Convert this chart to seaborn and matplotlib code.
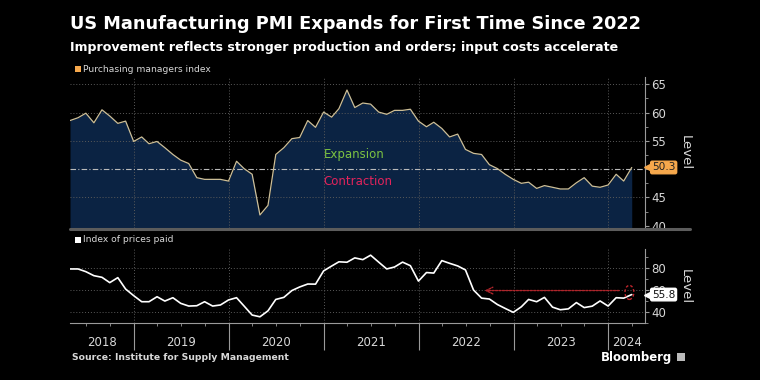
import numpy as np
import pandas as pd
import matplotlib
matplotlib.use("Agg")
import matplotlib.pyplot as plt
import matplotlib.dates as mdates
import matplotlib.transforms as mtransforms
from matplotlib.patches import Ellipse, Rectangle
from matplotlib.lines import Line2D
import seaborn as sns

# monthly, Apr 2018 .. Mar 2024 (month-end)
months = pd.date_range("2018-04-01", periods=72, freq="MS") + pd.offsets.MonthEnd(0)

pmi = [58.6, 59.1, 59.9, 58.2, 60.5, 59.4, 58.1, 58.5, 54.9, 55.7, 54.5, 54.9,
       53.8, 52.6, 51.6, 51.0, 48.5, 48.2, 48.2, 48.2, 47.9, 51.4, 50.1, 49.1,
       41.9, 43.6, 52.6, 53.8, 55.4, 55.6, 58.6, 57.4, 60.1, 59.2, 60.7, 64.0,
       60.9, 61.7, 61.5, 60.1, 59.7, 60.4, 60.4, 60.6, 58.5, 57.5, 58.3, 57.2,
       55.7, 56.2, 53.5, 52.8, 52.6, 50.8, 50.1, 49.1, 48.2, 47.5, 47.7, 46.6,
       47.1, 46.8, 46.5, 46.5, 47.6, 48.5, 47.0, 46.8, 47.2, 49.1, 47.9, 50.3]

prices_paid = [79.4, 79.4, 76.9, 73.2, 71.7, 66.8, 71.4, 60.9, 54.8, 49.2, 49.2, 53.8,
               49.8, 52.9, 47.7, 45.2, 45.5, 49.2, 45.2, 46.2, 50.8, 52.9, 45.2, 36.9,
               35.3, 40.8, 51.3, 53.2, 59.5, 62.8, 65.5, 65.4, 77.6, 82.1, 86.0, 85.6,
               89.6, 88.0, 92.1, 85.7, 79.4, 81.2, 85.7, 82.4, 68.2, 76.1, 75.6, 87.1,
               84.6, 82.2, 78.5, 60.0, 52.5, 51.7, 46.6, 43.0, 39.4, 44.5, 51.3, 49.2,
               53.2, 44.2, 41.8, 42.6, 48.4, 43.8, 45.1, 49.9, 45.2, 52.9, 52.5, 55.8]

years = [2018, 2019, 2020, 2021, 2022, 2023, 2024]
pmi_ticks = [40, 45, 55, 60, 65]
price_ticks = [40, 60, 80]

TITLE = "US Manufacturing PMI Expands for First Time Since 2022"
SUBTITLE = "Improvement reflects stronger production and orders; input costs accelerate"

BG = "black"
FILL = "#0b2343"
PMI_LINE = "#cdbf98"
ORANGE = "#f6a84c"
GRID = "#5a5a5a"
TXT = "#d8d8d8"

sns.set_theme(style="dark", rc={
    "figure.facecolor": BG,
    "axes.facecolor": BG,
    "savefig.facecolor": BG,
})
plt.rcParams["font.family"] = ["DejaVu Sans"]

df = pd.DataFrame({"date": months, "pmi": pmi, "prices": prices_paid})

fig = plt.figure(figsize=(7.6, 3.8), dpi=100)
W, H = 760, 380


def px_axes(left, top, right, bottom):
    return fig.add_axes([left / W, 1 - bottom / H, (right - left) / W, (bottom - top) / H])


def last_value_tag(ax, value, face, text_color):
    # little flag on the right axis: pointer + box with the latest value
    tr = mtransforms.blended_transform_factory(ax.transAxes, ax.transData)
    ax.plot([1.006], [value], marker="<", ms=5.5, color=face, mec=face,
            transform=tr, clip_on=False, zorder=5)
    ax.text(1.012, value, f"{value:.1f}", transform=tr, color=text_color, fontsize=7.6,
            ha="left", va="center", zorder=6, clip_on=False,
            bbox=dict(boxstyle="round,pad=0.12,rounding_size=0.15", fc=face, ec=face))


ax1 = px_axes(70, 77, 645, 228)
ax2 = px_axes(70, 249, 645, 323.3)

xmin = pd.Timestamp("2018-04-30")
xmax = pd.Timestamp("2024-05-21")
year_starts = [pd.Timestamp(f"{y}-01-01") for y in years[1:]]

for ax in (ax1, ax2):
    ax.set_xlim(xmin, xmax)
    for s in ("left", "top", "bottom"):
        ax.spines[s].set_visible(False)
    ax.spines["right"].set_color("#9a9a9a")
    ax.spines["right"].set_linewidth(0.8)
    ax.yaxis.tick_right()
    ax.tick_params(axis="y", which="both", direction="out", colors="#9a9a9a",
                   labelcolor=TXT, labelsize=8.5, pad=1.5, right=True, left=False)
    ax.tick_params(axis="y", which="major", length=3, width=0.8)
    ax.tick_params(axis="y", which="minor", length=2, width=0.6)
    ax.grid(False)
    for d in year_starts:
        ax.axvline(d, color=GRID, lw=0.7, ls=(0, (1, 2)), zorder=1.5)

# ---- top panel: PMI
ax1.set_ylim(39.6, 66.3)
ax1.fill_between(df["date"], df["pmi"], 39.6, color=FILL, lw=0, zorder=1)
sns.lineplot(data=df, x="date", y="pmi", ax=ax1, color=PMI_LINE, lw=0.9, zorder=3)
ax1.set_yticks(pmi_ticks)
ax1.set_yticks(np.arange(42.5, 66, 2.5), minor=True)
for v in pmi_ticks[1:]:
    ax1.axhline(v, color=GRID, lw=0.7, ls=(0, (1, 2)), zorder=1.5)
ax1.axhline(50, color="#bbbbbb", lw=0.8, ls=(0, (5, 2, 1, 2)), zorder=2)
ax1.set_xticks([])
ax1.set_xlabel("")
ax1.set_ylabel("")

ax1.text(pd.Timestamp("2021-01-01"), 52.6, "Expansion", color="#7cc242",
         fontsize=8.5, ha="left", va="center", zorder=4)
ax1.text(pd.Timestamp("2021-01-01"), 47.8, "Contraction", color="#e3245c",
         fontsize=8.5, ha="left", va="center", zorder=4)

last_value_tag(ax1, pmi[-1], ORANGE, "#222222")
ax1.text((685 - 70) / 575, 0.5, "Level", transform=ax1.transAxes, rotation=270,
         color=TXT, fontsize=9.5, ha="center", va="center")

# ---- bottom panel: prices paid
ax2.set_ylim(29.3, 97.8)
sns.lineplot(data=df, x="date", y="prices", ax=ax2, color="white", lw=1.2, zorder=3)
ax2.set_yticks(price_ticks)
ax2.set_yticks([30, 50, 70, 90], minor=True)
for v in price_ticks:
    ax2.axhline(v, color=GRID, lw=0.7, ls=(0, (1, 2)), zorder=1.5)
ax2.set_xlabel("")
ax2.set_ylabel("")

ax2.spines["bottom"].set_visible(True)
ax2.spines["bottom"].set_color("#9a9a9a")
ax2.spines["bottom"].set_linewidth(0.8)
ax2.set_xticks(year_starts)
ax2.set_xticks(pd.date_range("2018-07-01", "2024-04-01", freq="QS"), minor=True)
ax2.tick_params(axis="x", which="both", bottom=True, top=False, direction="out",
                color="#9a9a9a", labelbottom=False)
ax2.tick_params(axis="x", which="major", length=19.5, width=0.8)
ax2.tick_params(axis="x", which="minor", length=2.2, width=0.6)

xt = mtransforms.blended_transform_factory(ax2.transData, ax2.transAxes)
edges = [xmin] + year_starts + [xmax]
for y, a, b in zip(years, edges[:-1], edges[1:]):
    ax2.text(a + (b - a) / 2, -0.265, str(y), transform=xt, color=TXT,
             fontsize=8.5, ha="center", va="center")

last_value_tag(ax2, prices_paid[-1], "white", "#111111")
ax2.text((685 - 70) / 575, 0.5, "Level", transform=ax2.transAxes, rotation=270,
         color=TXT, fontsize=9.5, ha="center", va="center")

# red callout: circle round the latest reading, arrow back to 2022
ax2.add_patch(Ellipse((mdates.date2num(pd.Timestamp("2024-03-22")), 57.8), 34, 13,
                      fill=False, ec="#c0262d", lw=1.0, ls=(0, (2, 1.5)), zorder=4))
ax2.annotate("", xy=(pd.Timestamp("2022-09-01"), 59.5), xytext=(pd.Timestamp("2024-02-22"), 59.5),
             arrowprops=dict(arrowstyle="->", color="#b0252b", lw=1.0, ls=(0, (1.5, 1))),
             zorder=4)

# ---- figure text
fig.text(70 / W, 1 - 24 / H, TITLE, color="white", fontsize=12.8, fontweight="bold",
         ha="left", va="center")
fig.text(70 / W, 1 - 47 / H, SUBTITLE, color="white", fontsize=9.1, fontweight="bold",
         ha="left", va="center")

fig.patches.append(Rectangle((75 / W, 1 - 72 / H), 6 / W, 6 / H, transform=fig.transFigure,
                             fc=ORANGE, ec="none"))
fig.text(83 / W, 1 - 69 / H, "Purchasing managers index", color=TXT, fontsize=6.6,
         ha="left", va="center")
fig.patches.append(Rectangle((75 / W, 1 - 243 / H), 6 / W, 6 / H, transform=fig.transFigure,
                             fc="white", ec="none"))
fig.text(83 / W, 1 - 240 / H, "Index of prices paid", color=TXT, fontsize=6.6,
         ha="left", va="center")

fig.add_artist(Line2D([70 / W, 690 / W], [1 - 229 / H, 1 - 229 / H], transform=fig.transFigure,
                      color="#5c5c5c", lw=2.2))

fig.text(72 / W, 1 - 358 / H, "Source: Institute for Supply Management", color=TXT,
         fontsize=6.7, fontweight="bold", ha="left", va="center")
fig.text(672 / W, 1 - 357 / H, "Bloomberg", color="white", fontsize=8.4,
         fontweight="bold", ha="right", va="center")
fig.patches.append(Rectangle((677 / W, 1 - 361 / H), 8 / W, 8 / H, transform=fig.transFigure,
                             fc="#bbbbbb", ec="none"))

fig.savefig("out.png", dpi=100)
